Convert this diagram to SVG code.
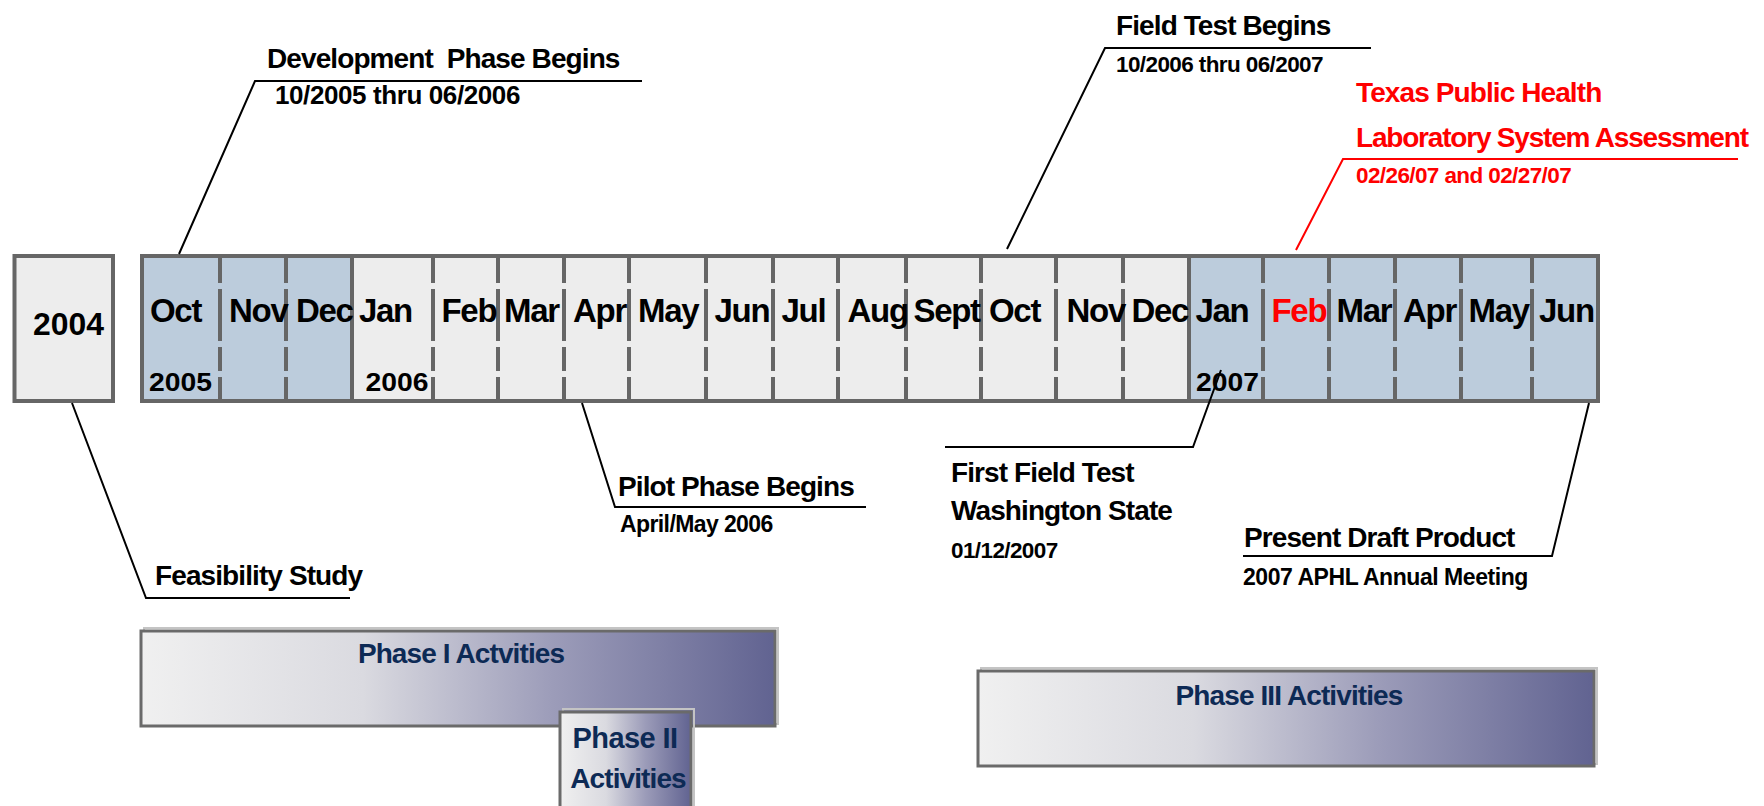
<svg xmlns="http://www.w3.org/2000/svg" width="1764" height="806" viewBox="0 0 1764 806">
<style>
text{font-family:"Liberation Sans",Arial,sans-serif;font-weight:bold;fill:#000}
.mon{font-size:33px;letter-spacing:-1.3px}
.yr{font-size:26px}
.big{font-size:28px;letter-spacing:-0.9px}
.sub{font-size:22.5px;letter-spacing:-0.6px}
.red{fill:#FF0000}
.ph{fill:#0D2A55;font-size:28px;letter-spacing:-0.9px;text-anchor:middle}
.blue{fill:#BCCCDC}
.gray{fill:#EDEDED}
.brd{fill:none;stroke:#666;stroke-width:4}
.dash{stroke:#666;stroke-width:4;stroke-dasharray:27 6 52 6 24 6 30}
.solid{stroke:#666;stroke-width:4}
.ln{stroke:#000;stroke-width:2;fill:none}
.lnr{stroke:#FF0000;stroke-width:2;fill:none}
.pbox{fill:url(#pg);stroke:#6A6A6A;stroke-width:3}
.pshadow{fill:none;stroke:#C4C4C4;stroke-width:2}
</style>
<defs>
<linearGradient id="pg" x1="0" y1="0" x2="1" y2="0">
<stop offset="0" stop-color="#F0F0F0"/>
<stop offset="0.35" stop-color="#DADAE0"/>
<stop offset="0.65" stop-color="#9C9CB9"/>
<stop offset="1" stop-color="#616391"/>
</linearGradient>
</defs>

<g id="year2004">
<rect x="14.5" y="256" width="98.5" height="145" fill="#EDEDED" stroke="#666" stroke-width="4"/>
<text x="33" y="335" style="font-size:31px" textLength="71" lengthAdjust="spacingAndGlyphs">2004</text>
</g>

<g id="timeline">
<rect class="blue" x="142" y="256" width="210" height="145"/>
<rect class="gray" x="352" y="256" width="837" height="145"/>
<rect class="blue" x="1189" y="256" width="409" height="145"/>
<line class="dash" x1="220" y1="256" x2="220" y2="401"/>
<line class="dash" x1="286" y1="256" x2="286" y2="401"/>
<line class="solid" x1="352" y1="256" x2="352" y2="401"/>
<line class="dash" x1="433" y1="256" x2="433" y2="401"/>
<line class="dash" x1="498" y1="256" x2="498" y2="401"/>
<line class="dash" x1="564" y1="256" x2="564" y2="401"/>
<line class="dash" x1="629" y1="256" x2="629" y2="401"/>
<line class="dash" x1="706" y1="256" x2="706" y2="401"/>
<line class="dash" x1="773" y1="256" x2="773" y2="401"/>
<line class="dash" x1="838" y1="256" x2="838" y2="401"/>
<line class="dash" x1="906" y1="256" x2="906" y2="401"/>
<line class="dash" x1="981" y1="256" x2="981" y2="401"/>
<line class="dash" x1="1056" y1="256" x2="1056" y2="401"/>
<line class="dash" x1="1123" y1="256" x2="1123" y2="401"/>
<line class="solid" x1="1189" y1="256" x2="1189" y2="401"/>
<line class="dash" x1="1263" y1="256" x2="1263" y2="401"/>
<line class="dash" x1="1329" y1="256" x2="1329" y2="401"/>
<line class="dash" x1="1395" y1="256" x2="1395" y2="401"/>
<line class="dash" x1="1461" y1="256" x2="1461" y2="401"/>
<line class="dash" x1="1532" y1="256" x2="1532" y2="401"/>
<rect class="brd" x="142" y="256" width="1456" height="145"/>
<text class="mon" x="150" y="322">Oct</text>
<text class="mon" x="229" y="322">Nov</text>
<text class="mon" x="296" y="322">Dec</text>
<text class="mon" x="359" y="322">Jan</text>
<text class="mon" x="441.5" y="322">Feb</text>
<text class="mon" x="504" y="322">Mar</text>
<text class="mon" x="573" y="322">Apr</text>
<text class="mon" x="638" y="322">May</text>
<text class="mon" x="714.5" y="322">Jun</text>
<text class="mon" x="781.5" y="322">Jul</text>
<text class="mon" x="847.5" y="322">Aug</text>
<text class="mon" x="913.5" y="322">Sept</text>
<text class="mon" x="989" y="322">Oct</text>
<text class="mon" x="1066.5" y="322">Nov</text>
<text class="mon" x="1131.5" y="322">Dec</text>
<text class="mon" x="1195.5" y="322">Jan</text>
<text class="mon red" x="1271.5" y="322">Feb</text>
<text class="mon" x="1336.5" y="322">Mar</text>
<text class="mon" x="1403" y="322">Apr</text>
<text class="mon" x="1468.5" y="322">May</text>
<text class="mon" x="1539" y="322">Jun</text>
<text class="yr" x="149" y="391" textLength="63" lengthAdjust="spacingAndGlyphs">2005</text>
<text class="yr" x="365.5" y="391" textLength="63" lengthAdjust="spacingAndGlyphs">2006</text>
<text class="yr" x="1196" y="391" textLength="63" lengthAdjust="spacingAndGlyphs">2007</text>
</g>

<g id="connectors">
<polyline class="ln" points="179,254 255,81 642,81"/>
<polyline class="ln" points="1007,249 1105,48 1371,48"/>
<polyline class="lnr" points="1296,250 1343,159 1738,159"/>
<polyline class="ln" points="72,403 146,598 350,598"/>
<polyline class="ln" points="582,403 615,507 866,507"/>
<polyline class="ln" points="1221,370 1193,447 945,447"/>
<polyline class="ln" points="1589,403 1552,556 1243,556"/>
</g>

<g id="dev-phase">
<text class="big" x="267" y="68" xml:space="preserve">Development  Phase Begins</text>
<text class="sub" x="275" y="104" style="font-size:26px;letter-spacing:-0.4px">10/2005 thru 06/2006</text>
</g>

<g id="field-test">
<text class="big" x="1116" y="35">Field Test Begins</text>
<text class="sub" x="1116" y="72">10/2006 thru 06/2007</text>
</g>

<g id="texas">
<text class="big red" x="1356" y="102">Texas Public Health</text>
<text class="big red" x="1356" y="147" style="letter-spacing:-1.2px">Laboratory System Assessment</text>
<text class="sub red" x="1356" y="183">02/26/07 and 02/27/07</text>
</g>

<g id="pilot">
<text class="big" x="618" y="496">Pilot Phase Begins</text>
<text class="sub" x="620" y="532" style="font-size:23px">April/May 2006</text>
</g>

<g id="first-field-test">
<text class="big" x="951" y="482">First Field Test</text>
<text class="big" x="951" y="520">Washington State</text>
<text class="sub" x="951" y="558">01/12/2007</text>
</g>

<g id="present-draft">
<text class="big" x="1244" y="547">Present Draft Product</text>
<text class="sub" x="1243" y="585" style="font-size:23px;letter-spacing:-0.45px">2007 APHL Annual Meeting</text>
</g>

<g id="feasibility">
<text class="big" x="155" y="585">Feasibility Study</text>
</g>

<g id="phase1">
<rect class="pshadow" x="144" y="628" width="634" height="96"/>
<rect class="pbox" x="141" y="631" width="634" height="95"/>
<text class="ph" x="461" y="663">Phase I Actvities</text>
</g>

<g id="phase3">
<rect class="pshadow" x="981" y="668" width="616" height="96"/>
<rect class="pbox" x="978" y="671" width="616" height="95"/>
<text class="ph" x="1289" y="705">Phase III Activities</text>
</g>

<g id="phase2">
<rect class="pshadow" x="563" y="709" width="131" height="110"/>
<rect class="pbox" x="560" y="712" width="131" height="110"/>
<text class="ph" x="625" y="748" style="font-size:29px;letter-spacing:-0.6px">Phase II</text>
<text class="ph" x="628" y="788">Activities</text>
</g>
</svg>
